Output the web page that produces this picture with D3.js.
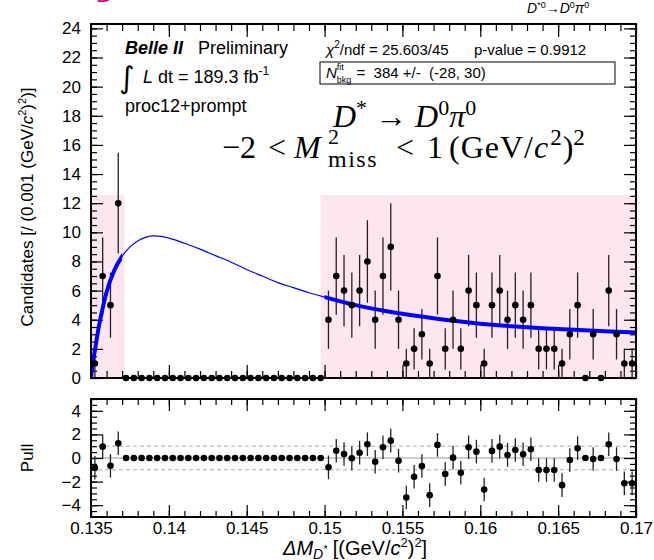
<!DOCTYPE html>
<html><head><meta charset="utf-8">
<script src="https://cdn.jsdelivr.net/npm/d3@7"></script>
<style>
html,body{margin:0;padding:0;background:#fff;}
svg{display:block;}
text{white-space:pre;}
</style></head>
<body>
<svg id="c" width="654" height="560"></svg>
<script>
// ---------------- data ----------------
const binCenters = [0.13525,0.13575,0.13625,0.13675,
 0.13725,0.13775,0.13825,0.13875,0.13925,0.13975,0.14025,0.14075,0.14125,0.14175,0.14225,0.14275,0.14325,
 0.14375,0.14425,0.14475,0.14525,0.14575,0.14625,0.14675,0.14725,0.14775,0.14825,0.14875,0.14925,0.14975,
 0.15025,0.15075,0.15125,0.15175,0.15225,0.15275,0.15325,0.15375,0.15425,0.15475,
 0.15525,0.15575,0.15625,0.15675,0.15725,0.15775,0.15825,0.15875,0.15925,0.15975,
 0.16025,0.16075,0.16125,0.16175,0.16225,0.16275,0.16325,0.16375,0.16425,0.16475,
 0.16525,0.16575,0.16625,0.16675,0.16725,0.16775,0.16825,0.16875,0.16925,0.16975];
const counts = [1,7,5,12,
 0,0,0,0,0,0,0,0,0,0,0,0,0,0,0,0,0,0,0,0,0,0,0,0,0,0,
 4,7,6,5,6,8,4,7,9,4,1,2,3,1,7,2,4,2,6,5,1,5,6,4,5,4,5,2,2,2,1,3,5,0,3,0,6,3,1,1];
const countErr = [1,2.65,2.24,3.46,
 0,0,0,0,0,0,0,0,0,0,0,0,0,0,0,0,0,0,0,0,0,0,0,0,0,0,
 2,2.65,2.45,2.24,2.45,2.83,2,2.65,3,2,1,1.41,1.73,1,2.65,1.41,2,1.41,2.45,2.24,
 1,2.24,2.45,2,2.24,2,2.24,1.41,1.41,1.41,1,1.73,2.24,0,1.73,0,2.45,1.73,1,1];
const pulls = [-0.83,0.96,-0.66,1.25,
 0,0,0,0,0,0,0,0,0,0,0,0,0,0,0,0,0,0,0,0,0,0,0,0,0,0,
 -0.79,0.62,0.34,-0.03,0.45,1.17,-0.32,0.91,1.47,-0.23,-3.35,-1.59,-0.68,-3.15,1.11,-1.36,0.03,-1.25,0.91,0.54,
 -2.67,0.60,0.96,0.26,0.68,0.32,0.74,-1.02,-1.02,-1.02,-2.30,-0.17,0.83,0,-0.09,0,1.17,-0.09,-2.15,-2.15];
const pullErr = counts.map(n => n > 0 ? 1 : 0);

// fit curve
const fitX = [0.1350,0.1351,0.13525,0.1355,0.13575,0.1360,0.1365,0.1370,0.1375,0.1380,0.1385,0.1390,0.1395,0.1400,
 0.1410,0.1420,0.1430,0.1440,0.1450,0.1460,0.1470,0.1480,0.1490,0.1500,0.1520,0.1540,0.1560,0.1580,0.1600,
 0.1620,0.1640,0.1660,0.1680,0.1700];
const fitY = [0,0.95,1.9,3.5,4.8,5.9,7.4,8.35,9.0,9.4,9.65,9.75,9.72,9.6,
 9.25,8.85,8.4,7.95,7.45,7.0,6.55,6.2,5.85,5.55,5.0,4.58,4.25,3.96,3.73,
 3.56,3.42,3.31,3.21,3.12];
const fitRanges = [[0.135,0.137],[0.150,0.170]];
const shadeRanges = [[0.135,0.13715],[0.14975,0.170]];
const shadeTop = 12.55;

const xTickLabels = [0.135,0.14,0.145,0.15,0.155,0.16,0.165,0.17];
const yTicks = [0,2,4,6,8,10,12,14,16,18,20,22,24];
const pullTicks = [-4,-2,0,2,4];

// ---------------- layout ----------------
const svg = d3.select('#c');
const L = 91, R = 636, T1 = 24, B1 = 378, T2 = 399, B2 = 517;
const x = d3.scaleLinear().domain([0.135,0.17]).range([L,R]);
const y = d3.scaleLinear().domain([0,24.3]).range([B1,T1]);
const yp = d3.scaleLinear().domain([-5,5]).range([B2,T2]);
const SANS = "'Liberation Sans', Arial, Helvetica, sans-serif";
const SERIF = "'Liberation Serif', 'Times New Roman', serif";

function rich(parent, x0, y0, pieces, base) {
  const g = parent.append('g');
  let cx = x0, prevStart = x0;
  pieces.forEach(p => {
    const sx = p.ax !== undefined ? p.ax : (p.stack ? prevStart : cx + (p.dx || 0));
    const t = g.append('text').attr('x', sx).attr('y', y0 + (p.dy || 0))
      .attr('font-family', p.family || base.family)
      .attr('font-size', p.size || base.size)
      .attr('font-style', p.italic ? 'italic' : 'normal')
      .attr('font-weight', p.bold ? 'bold' : 'normal')
      .attr('fill', p.fill || base.fill || '#000')
      .attr('letter-spacing', p.ls || 0)
      .text(p.s);
    const w = t.node().getComputedTextLength();
    if (!p.stack) { prevStart = sx; cx = sx + w; }
    else { cx = Math.max(cx, sx + w); }
  });
  g.attr('data-w', cx - x0);
  return g;
}

// clip
const defs = svg.append('defs');
defs.append('clipPath').attr('id','frame1').append('rect')
  .attr('x',L).attr('y',T1).attr('width',R-L).attr('height',B1-T1);
const fc = defs.append('clipPath').attr('id','fitclip');
fitRanges.forEach(r => fc.append('rect').attr('x', x(r[0])).attr('y', T1)
  .attr('width', x(r[1]) - x(r[0])).attr('height', B1 - T1));

// shaded fit regions
svg.append('g').selectAll('rect').data(shadeRanges).join('rect')
  .attr('x', d => x(d[0])).attr('width', d => x(d[1]) - x(d[0]))
  .attr('y', y(shadeTop)).attr('height', y(0) - y(shadeTop))
  .attr('fill', '#fde6ef');

// magenta cut title
svg.append('text').attr('x',97).attr('y',2).attr('font-family',SANS).attr('font-size',22)
  .attr('font-style','italic').attr('fill','#e4007c').text('D');

// ---------------- axes (upper) ----------------
function styleAxis(g){ g.select('.domain').remove(); g.selectAll('line').attr('stroke','#000').attr('stroke-width',1.2);
  g.selectAll('text').attr('font-family',SANS).attr('fill','#000'); }
const xMinor = x.ticks(35);
svg.append('g').attr('transform',`translate(0,${B1})`).call(d3.axisBottom(x).tickValues(xMinor).tickSize(-7).tickFormat('')).call(styleAxis);
svg.append('g').attr('transform',`translate(0,${B1})`).call(d3.axisBottom(x).tickValues(xTickLabels).tickSize(-13).tickFormat('')).call(styleAxis);
svg.append('g').attr('transform',`translate(0,${T1})`).call(d3.axisTop(x).tickValues(xMinor).tickSize(-7).tickFormat('')).call(styleAxis);
svg.append('g').attr('transform',`translate(0,${T1})`).call(d3.axisTop(x).tickValues(xTickLabels).tickSize(-13).tickFormat('')).call(styleAxis);
const yMinor = y.ticks(48);
svg.append('g').attr('transform',`translate(${L},0)`).call(d3.axisLeft(y).tickValues(yMinor).tickSize(-6).tickFormat('')).call(styleAxis);
svg.append('g').attr('transform',`translate(${L},0)`).call(d3.axisLeft(y).tickValues(yTicks).tickSize(-12).tickPadding(10))
  .call(styleAxis).call(g => g.selectAll('text').attr('font-size',17));
svg.append('g').attr('transform',`translate(${R},0)`).call(d3.axisRight(y).tickValues(yMinor).tickSize(-6).tickFormat('')).call(styleAxis);
svg.append('g').attr('transform',`translate(${R},0)`).call(d3.axisRight(y).tickValues(yTicks).tickSize(-12).tickFormat('')).call(styleAxis);

// ---------------- data points (upper) ----------------
const pts = binCenters.map((c,i) => ({c, n: counts[i], e: countErr[i], p: pulls[i], pe: pullErr[i]}));
const up = svg.append('g').attr('clip-path','url(#frame1)');
up.selectAll('line.eb').data(pts.filter(d => d.e > 0)).join('line').attr('class','eb')
  .attr('x1', d => x(d.c)).attr('x2', d => x(d.c))
  .attr('y1', d => y(d.n - d.e)).attr('y2', d => y(d.n + d.e))
  .attr('stroke','#222').attr('stroke-width',1.3);

// fit curve
const line = d3.line().x((d,i) => x(fitX[i])).y(d => y(d)).curve(d3.curveMonotoneX);
up.append('path').attr('d', line(fitY)).attr('fill','none').attr('stroke','#0000ff').attr('stroke-width',1.2);
up.append('g').attr('clip-path','url(#fitclip)').append('path').attr('d', line(fitY))
  .attr('fill','none').attr('stroke','#0000ff').attr('stroke-width',4);

svg.append('g').selectAll('circle').data(pts).join('circle')
  .attr('cx', d => x(d.c)).attr('cy', d => y(d.n)).attr('r',3.3).attr('fill','#000');

// frame
svg.append('rect').attr('x',L).attr('y',T1).attr('width',R-L).attr('height',B1-T1)
  .attr('fill','none').attr('stroke','#000').attr('stroke-width',2);

// ---------------- pull panel ----------------
[-1,1].forEach(v => svg.append('line').attr('x1',L).attr('x2',R).attr('y1',yp(v)).attr('y2',yp(v))
  .attr('stroke','#aaa').attr('stroke-width',1).attr('stroke-dasharray','4,3'));
svg.append('line').attr('x1',L).attr('x2',R).attr('y1',yp(0)).attr('y2',yp(0)).attr('stroke','#999').attr('stroke-width',1);

svg.append('g').attr('transform',`translate(0,${B2})`).call(d3.axisBottom(x).tickValues(xMinor).tickSize(-6).tickFormat('')).call(styleAxis);
svg.append('g').attr('transform',`translate(0,${B2})`).call(d3.axisBottom(x).tickValues(xTickLabels).tickSize(-12).tickPadding(5).tickFormat(d3.format('')))
  .call(styleAxis).call(g => g.selectAll('text').attr('font-size',17));
svg.append('g').attr('transform',`translate(0,${T2})`).call(d3.axisTop(x).tickValues(xMinor).tickSize(-6).tickFormat('')).call(styleAxis);
svg.append('g').attr('transform',`translate(0,${T2})`).call(d3.axisTop(x).tickValues(xTickLabels).tickSize(-12).tickFormat('')).call(styleAxis);
const pMinor = yp.ticks(20);
svg.append('g').attr('transform',`translate(${L},0)`).call(d3.axisLeft(yp).tickValues(pMinor).tickSize(-6).tickFormat('')).call(styleAxis);
svg.append('g').attr('transform',`translate(${L},0)`).call(d3.axisLeft(yp).tickValues(pullTicks).tickSize(-12).tickPadding(10).tickFormat(d => d < 0 ? '\u2212' + Math.abs(d) : d))
  .call(styleAxis).call(g => g.selectAll('text').attr('font-size',17));
svg.append('g').attr('transform',`translate(${R},0)`).call(d3.axisRight(yp).tickValues(pMinor).tickSize(-6).tickFormat('')).call(styleAxis);
svg.append('g').attr('transform',`translate(${R},0)`).call(d3.axisRight(yp).tickValues(pullTicks).tickSize(-12).tickFormat('')).call(styleAxis);

svg.append('g').selectAll('line').data(pts.filter(d => d.pe > 0)).join('line')
  .attr('x1', d => x(d.c)).attr('x2', d => x(d.c))
  .attr('y1', d => yp(d.p - d.pe)).attr('y2', d => yp(d.p + d.pe))
  .attr('stroke','#222').attr('stroke-width',1.3);
svg.append('g').selectAll('circle').data(pts).join('circle')
  .attr('cx', d => x(d.c)).attr('cy', d => yp(d.p)).attr('r',3.3).attr('fill','#000');
svg.append('rect').attr('x',L).attr('y',T2).attr('width',R-L).attr('height',B2-T2)
  .attr('fill','none').attr('stroke','#000').attr('stroke-width',2);

// ---------------- texts ----------------
const sans18 = {family: SANS, size: 18};
rich(svg, 125, 54, [{s:'Belle II', bold:true, italic:true}, {s:'   Preliminary'}], sans18);
svg.append('text').attr('x',119).attr('y',88).attr('font-family',"'DejaVu Sans', sans-serif").attr('font-size',30).text('\u222B');
rich(svg, 143, 83, [{s:'L', italic:true}, {s:' dt = 189.3 fb'}, {s:'-1', size:12, dy:-8}], sans18);
svg.append('text').attr('x',125).attr('y',112).attr('font-family',SANS).attr('font-size',18).text('proc12+prompt');

rich(svg, 326, 55, [{s:'\u03C7', italic:true}, {s:'2', size:10, dy:-7}, {s:'/ndf = 25.603/45'}], {family:SANS, size:15});
svg.append('text').attr('x',474).attr('y',55).attr('font-family',SANS).attr('font-size',15).text('p-value = 0.9912');
svg.append('rect').attr('x',320).attr('y',62).attr('width',295).attr('height',22).attr('fill','#fff').attr('stroke','#000').attr('stroke-width',1);
rich(svg, 326, 78, [{s:'N', italic:true}, {s:'fit', size:9, dy:-8}, {s:'bkg', size:9, dy:5, stack:true}, {s:' =  384 +/-  (-28, 30)', dx:1}], {family:SANS, size:15});

rich(svg, 527, 13, [{s:'D', italic:true}, {s:'*0', size:9, dy:-5}, {s:'\u2192'}, {s:'D', italic:true}, {s:'0', size:9, dy:-5}, {s:'\u03C0', italic:true}, {s:'0', size:9, dy:-5}], {family:SANS, size:14});

const mathBase = {family: SERIF, size: 32};
rich(svg, 333, 127, [{s:'D', italic:true}, {s:'*', size:22, dy:-12}, {s:' \u2192 '}, {s:'D', italic:true}, {s:'0', size:22, dy:-12}, {s:'\u03C0', italic:true}, {s:'0', size:22, dy:-12}], mathBase);
rich(svg, 222, 158, [{s:'\u22122'}, {s:'<', ax:268}, {s:'M', italic:true, ax:294}, {s:'2', size:22, dy:-14, ax:328}, {s:'miss', size:24, dy:9, stack:true, ls:1.5},
  {s:'<', ax:396}, {s:'1', ax:427}, {s:'(GeV/', ax:449, ls:1}, {s:'c', italic:true}, {s:'2', size:23, dy:-13, dx:2}, {s:')', dx:1}, {s:'2', size:23, dy:-13}], mathBase);

// y title
const yt = svg.append('g');
const ytg = rich(yt, 0, 0, [{s:'Candidates [/ (0.001 (GeV/'}, {s:'c', italic:true}, {s:'2', size:11, dy:-7}, {s:')'}, {s:'2', size:11, dy:-7}, {s:')]'}], {family:SANS, size:17});
const ytw = +ytg.attr('data-w');
yt.attr('transform', `translate(33,${207 + ytw/2}) rotate(-90)`);
svg.append('text').attr('transform','translate(33,458) rotate(-90)').attr('text-anchor','middle')
  .attr('font-family',SANS).attr('font-size',17).text('Pull');

// x title
rich(svg, 283, 555, [{s:'\u0394M', italic:true}, {s:'D', size:14, dy:4, italic:true}, {s:'*', size:10, dy:-2, italic:true}, {s:' [(GeV/'}, {s:'c', italic:true}, {s:'2', size:13, dy:-8}, {s:')'}, {s:'2', size:13, dy:-8}, {s:']'}], {family:SANS, size:20});
</script>
</body></html>
